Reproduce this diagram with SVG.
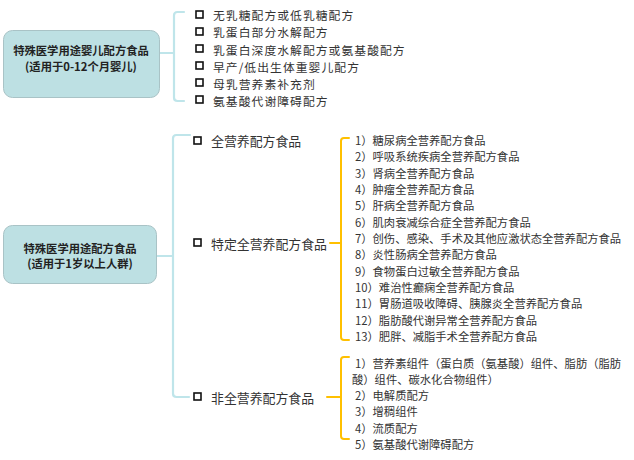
<svg xmlns="http://www.w3.org/2000/svg" width="634" height="460" viewBox="0 0 634 460">
<style>
text{font-family:"Noto Sans CJK SC","Microsoft YaHei",sans-serif;fill:#333;dominant-baseline:central}
.box{fill:#bde0e3;stroke:#a9c3c6;stroke-width:1}
.bt{font-size:11.3px;font-weight:bold;fill:#222;text-anchor:middle}
.t0{font-size:11.8px;letter-spacing:1.05px}
.t1{font-size:12.9px}
.t2{font-size:11.3px}
.cb{fill:#fff;stroke:#111;stroke-width:1.6}
.teal{fill:none;stroke:#bfe5ea;stroke-width:2.2;stroke-linecap:round}
.yel{fill:none;stroke:#ffc000;stroke-width:2;stroke-linecap:round}
</style>
<rect width="634" height="460" fill="#fff"/>
<g id="connectors">
<path class="teal" d="M159 53 H174 M184 12 H177.5 Q174 12 174 15.5 V97.5 Q174 101 177.5 101 H184"/>
<path class="teal" d="M157 256 H173 M190 135 H176.5 Q173 135 173 138.5 V393.5 Q173 397 176.5 397 H189"/>
<path class="yel" d="M330 243 H341 M349 138 H344 Q341 138 341 141 V337 Q341 340 344 340 H349"/>
<path class="yel" d="M327 397 H341 M349 357 H344 Q341 357 341 360 V436 Q341 439 344 439 H349"/>
</g>
<g id="node-infant">
<rect class="box" x="3.5" y="30.5" width="156" height="67" rx="9"/>
<text class="bt" x="81" y="50">特殊医学用途婴儿配方食品</text>
<text class="bt" x="81" y="66">(适用于0-12个月婴儿)</text>
</g>
<g id="node-infant-items">
<rect class="cb" x="196" y="11" width="7" height="7"/><text class="t0" x="213" y="14.5">无乳糖配方或低乳糖配方</text>
<rect class="cb" x="196" y="28" width="7" height="7"/><text class="t0" x="213" y="31.8">乳蛋白部分水解配方</text>
<rect class="cb" x="196" y="45" width="7" height="7"/><text class="t0" x="213" y="49">乳蛋白深度水解配方或氨基酸配方</text>
<rect class="cb" x="196" y="62" width="7" height="7"/><text class="t0" x="213" y="66.3">早产/低出生体重婴儿配方</text>
<rect class="cb" x="196" y="79" width="7" height="7"/><text class="t0" x="213" y="83.5">母乳营养素补充剂</text>
<rect class="cb" x="196" y="96" width="7" height="7"/><text class="t0" x="213" y="100.8">氨基酸代谢障碍配方</text>
</g>
<g id="node-adult">
<rect class="box" x="3.5" y="225.5" width="153" height="58" rx="9"/>
<text class="bt" x="80" y="248">特殊医学用途配方食品</text>
<text class="bt" x="80" y="263">(适用于1岁以上人群)</text>
</g>
<g id="node-full">
<rect class="cb" x="194" y="137" width="7" height="7"/><text class="t1" x="211" y="140">全营养配方食品</text>
</g>
<g id="node-specific">
<rect class="cb" x="194" y="239" width="7" height="7"/><text class="t1" x="211" y="243">特定全营养配方食品</text>
</g>
<g id="node-nonfull">
<rect class="cb" x="194" y="393" width="7" height="7"/><text class="t1" x="211" y="397">非全营养配方食品</text>
</g>
<g id="node-specific-items">
<text class="t2" x="355" y="140">1）糖尿病全营养配方食品</text>
<text class="t2" x="355" y="156.3">2）呼吸系统疾病全营养配方食品</text>
<text class="t2" x="355" y="172.7">3）肾病全营养配方食品</text>
<text class="t2" x="355" y="189">4）肿瘤全营养配方食品</text>
<text class="t2" x="355" y="205.3">5）肝病全营养配方食品</text>
<text class="t2" x="355" y="221.7">6）肌肉衰减综合症全营养配方食品</text>
<text class="t2" x="355" y="238">7）创伤、感染、手术及其他应激状态全营养配方食品</text>
<text class="t2" x="355" y="254.3">8）炎性肠病全营养配方食品</text>
<text class="t2" x="355" y="270.7">9）食物蛋白过敏全营养配方食品</text>
<text class="t2" x="355" y="287">10）难治性癫痫全营养配方食品</text>
<text class="t2" x="355" y="303.3">11）胃肠道吸收障碍、胰腺炎全营养配方食品</text>
<text class="t2" x="355" y="319.7">12）脂肪酸代谢异常全营养配方食品</text>
<text class="t2" x="355" y="336">13）肥胖、减脂手术全营养配方食品</text>
</g>
<g id="node-nonfull-items">
<text class="t2" x="355" y="363">1）营养素组件（蛋白质（氨基酸）组件、脂肪（脂肪</text>
<text class="t2" x="352" y="379">酸）组件、碳水化合物组件）</text>
<text class="t2" x="355" y="395">2）电解质配方</text>
<text class="t2" x="355" y="411">3）增稠组件</text>
<text class="t2" x="355" y="428">4）流质配方</text>
<text class="t2" x="355" y="444">5）氨基酸代谢障碍配方</text>
</g>
</svg>
